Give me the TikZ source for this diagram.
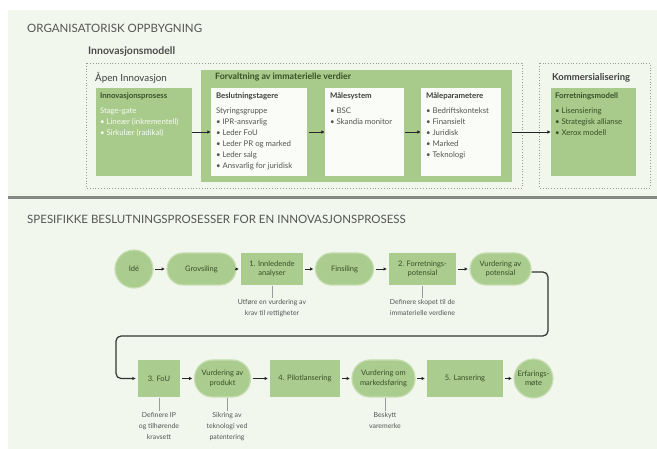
\documentclass[tikz,border=0pt]{standalone}
\usepackage{fontspec}
\setmainfont{Lato}
\usepackage{tikz}
\usetikzlibrary{arrows.meta,calc,positioning}
\definecolor{pagebg}{RGB}{242,247,237}
\definecolor{boxgreen}{RGB}{168,202,139}
\definecolor{nodegreen}{RGB}{170,204,142}
\definecolor{halo}{RGB}{198,222,178}
\definecolor{paperbox}{RGB}{250,252,247}
\definecolor{headgray}{RGB}{85,85,85}
\definecolor{darkleaf}{RGB}{55,80,38}
\definecolor{dotgray}{RGB}{150,156,146}
\definecolor{rulegray}{RGB}{135,137,133}
\tikzset{
  heading/.style={anchor=west,inner sep=0pt,text=headgray,
    font=\fontsize{11.5}{13}\selectfont},
  subheading/.style={anchor=west,inner sep=0pt,text=black!75,
    font=\fontsize{9.8}{11}\selectfont},
  frame/.style={draw=dotgray,dotted,line width=0.8pt},
  greenbox/.style={fill=boxgreen,inner sep=0pt},
  paper/.style={fill=paperbox,inner sep=0pt},
  boxtext/.style={anchor=north west,inner sep=0pt,align=left,
    font=\fontsize{7.8}{11}\selectfont},
  flownode/.style={fill=nodegreen,draw=halo,line width=1.2pt,inner sep=1pt,
    align=center,text=darkleaf,font=\fontsize{7.5}{9.5}\selectfont},
  procbox/.style={flownode,rectangle,draw=none},
  stadium/.style={flownode,rectangle,rounded corners=#1},
  stadium/.default=16pt,
  roundnode/.style={flownode,circle,inner sep=-3pt,minimum size=38pt},
  note/.style={anchor=north,inner sep=1.5pt,align=center,text=headgray,
    font=\fontsize{6.9}{10.8}\selectfont},
  flow/.style={-{Latex[length=3.2pt,width=3.4pt]},line width=0.9pt,black!85,
    shorten <=1.5pt,shorten >=1.5pt},
  link/.style={-{Latex[length=3.5pt,width=3.6pt]},line width=0.9pt,black!85},
  loopback/.style={-{Latex[length=3.5pt,width=3.6pt]},line width=1.2pt,
    black!80,rounded corners=5pt,shorten >=1.5pt},
  tick/.style={draw=gray!80,line width=0.5pt}
}
\begin{document}
\begin{tikzpicture}[x=1pt,y=-1pt]
  \useasboundingbox (0,0) rectangle (657,449);
  \fill[pagebg] (8,10) rectangle (657,449);
  \draw[rulegray,line width=3pt] (8,198) -- (657,198);

  \node[heading] (org) at (27,28) {ORGANISATORISK OPPBYGNING};
  \node[subheading,font=\bfseries\fontsize{10.5}{12}\selectfont,text=black!70] (modell) at (88,52) {Innovasjonsmodell};
  \draw[frame] (86,63) rectangle (522,188);
  \draw[frame] (539,63) rectangle (650,188);

  \node[subheading] (apen) at (95,78) {Åpen Innovasjon};
  \node[greenbox,minimum width=311pt,minimum height=112pt] (forv) at (356.5,126) {};
  \node[subheading,font=\bfseries\fontsize{8.8}{10}\selectfont,text=darkleaf] (forvt) at (215,77) {Forvaltning av immaterielle verdier};
  \node[subheading,font=\bfseries\fontsize{9.5}{11}\selectfont,text=black!75] (komm) at (552,78) {Kommersialisering};

  \node[greenbox,minimum width=96pt,minimum height=88pt] (b1) at (144,132) {};
  \node[paper,minimum width=96pt,minimum height=88pt] (b2) at (259,132) {};
  \node[paper,minimum width=79pt,minimum height=88pt] (b3) at (364.5,132) {};
  \node[paper,minimum width=80pt,minimum height=88pt] (b4) at (461,132) {};
  \node[greenbox,minimum width=85pt,minimum height=88pt] (b5) at (593.5,132) {};

  \node[boxtext,text=white!92!boxgreen] (t1) at ([shift={(4,5)}]b1.north west)
    {\textcolor{darkleaf}{\textbf{Innovasjonsprosess}}\\[4pt]Stage-gate\\• Lineær (inkrementell)\\• Sirkulær (radikal)};
  \node[boxtext,text=headgray] (t2) at ([shift={(5,5)}]b2.north west)
    {\textcolor{black!75}{\textbf{Beslutningstagere}}\\[4pt]Styringsgruppe\\• IPR-ansvarlig\\• Leder FoU\\• Leder PR og marked\\• Leder salg\\• Ansvarlig for juridisk};
  \node[boxtext,text=headgray] (t3) at ([shift={(5,5)}]b3.north west)
    {\textcolor{black!75}{\textbf{Målesystem}}\\[4pt]• BSC\\• Skandia monitor};
  \node[boxtext,text=headgray] (t4) at ([shift={(5,5)}]b4.north west)
    {\textcolor{black!75}{\textbf{Måleparametere}}\\[4pt]• Bedriftskontekst\\• Finansielt\\• Juridisk\\• Marked\\• Teknologi};
  \node[boxtext,text=darkleaf] (t5) at ([shift={(4,5)}]b5.north west)
    {\textbf{Forretningsmodell}\\[4pt]• Lisensiering\\• Strategisk allianse\\• Xerox modell};

  \draw[link] (b1.east) -- (b2.west);
  \draw[link] ([xshift=2pt]b2.east) -- (b3.west);
  \draw[link] ([xshift=1pt]b3.east) -- (b4.west);
  \draw[link] (b5.west -| forv.east) -- (b5.west);

  \node[heading] (spes) at (27,219) {SPESIFIKKE BESLUTNINGSPROSESSER FOR EN INNOVASJONSPROSESS};

  \node[roundnode] (ide) at (134,269) {Idé};
  \node[stadium,minimum width=69pt,minimum height=32pt] (grov) at (201.5,269) {Grovsiling};
  \node[procbox,minimum width=62pt,minimum height=32pt] (a1) at (272,269) {1. Innledende\\analyser};
  \node[stadium,minimum width=58pt,minimum height=32pt] (fin) at (344.5,269) {Finsiling};
  \node[procbox,minimum width=67pt,minimum height=32pt] (a2) at (422.5,269) {2. Forretnings-\\potensial};
  \node[stadium,minimum width=61pt,minimum height=32pt] (vpot) at (500.5,269) {Vurdering av\\potensial};

  \node[procbox,minimum width=42pt,minimum height=37pt] (fou) at (159,378.5) {3. FoU};
  \node[stadium=18pt,minimum width=56pt,minimum height=37pt] (vprod) at (222.5,378.5) {Vurdering av\\produkt};
  \node[procbox,minimum width=70pt,minimum height=37pt] (pilot) at (305,378.5) {4. Pilotlansering};
  \node[stadium=18pt,minimum width=63pt,minimum height=37pt] (vmark) at (383.5,378.5) {Vurdering om\\markedsføring};
  \node[procbox,minimum width=76pt,minimum height=37pt] (lans) at (465,378.5) {5. Lansering};
  \node[roundnode,minimum size=39pt] (erf) at (533.5,378.5) {Erfarings-\\møte};

  \draw[flow] (ide) -- (grov);
  \draw[flow] (grov) -- (a1);
  \draw[flow] (a1) -- (fin);
  \draw[flow] (fin) -- (a2);
  \draw[flow] (a2) -- (vpot);
  \coordinate (turnr) at (548,336);
  \coordinate (turnl) at (116,336);
  \draw[loopback] ([yshift=-3pt]vpot.east) -| (turnr) -- (turnl) |- (fou.west);
  \draw[flow] (fou) -- (vprod);
  \draw[flow] (vprod) -- (pilot);
  \draw[flow] (pilot) -- (vmark);
  \draw[flow] (vmark) -- (lans);
  \draw[flow] (lans) -- (erf);

  \node[note] (n1) at (272,298) {Utføre en vurdering av\\krav til rettigheter};
  \node[note] (n2) at (422.5,298) {Definere skopet til de\\immaterielle verdiene};
  \node[note] (n3) at (159,411) {Definere IP\\og tilhørende\\kravsett};
  \node[note] (n4) at (227,411) {Sikring av\\teknologi ved\\patentering};
  \node[note] (n5) at (385,411) {Beskytt\\varemerke};
  \draw[tick] (a1.south) -- (n1.north);
  \draw[tick] (a2.south) -- (n2.north);
  \draw[tick] (fou.south) -- (n3.north);
  \draw[tick] (vprod.south -| n4.north) -- (n4.north);
  \draw[tick] (vmark.south -| n5.north) -- (n5.north);
\end{tikzpicture}
\end{document}
